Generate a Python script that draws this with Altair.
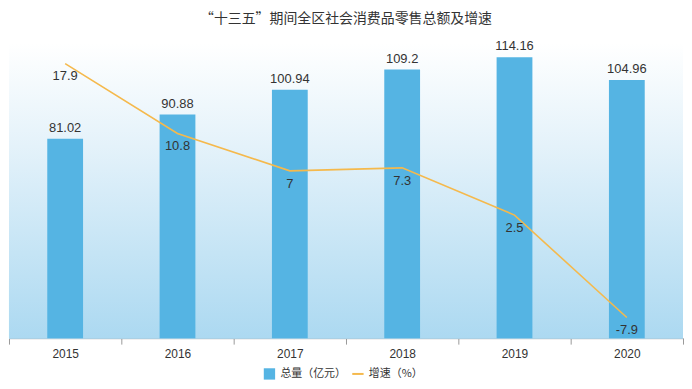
import altair as alt
import pandas as pd

years = ["2015", "2016", "2017", "2018", "2019", "2020"]
totals = [81.02, 90.88, 100.94, 109.2, 114.16, 104.96]
growth = [17.9, 10.8, 7, 7.3, 2.5, -7.9]

df = pd.DataFrame({"year": years, "total": totals, "growth": growth})

W, H = 678, 297
NUM_FONT = "Liberation Sans"
CJK_FONT = "Noto Sans CJK SC"

x = alt.X(
    "year:N",
    scale=alt.Scale(paddingInner=0, paddingOuter=0),
    axis=alt.Axis(
        title=None, labelAngle=0, tickBand="extent", domainColor="#999999",
        tickColor="#999999", tickSize=6, labelFontSize=12, labelColor="#333333",
        labelFont=NUM_FONT, labelPadding=4,
    ),
)

base = alt.Chart(df)

bg = base.mark_rect(
    fill=alt.Gradient(
        gradient="linear",
        stops=[alt.GradientStop(color="#ffffff", offset=0),
               alt.GradientStop(color="#e4f2fa", offset=0.35),
               alt.GradientStop(color="#acd9f1", offset=1)],
        x1=0, x2=0, y1=0, y2=1,
    )
).encode(x=alt.value(0), x2=alt.value(W), y=alt.value(0), y2=alt.value(H))

ybar = alt.Y("total:Q", scale=alt.Scale(domain=[0, 120]), axis=None)
yline = alt.Y("growth:Q", scale=alt.Scale(domain=[-10, 20]), axis=None)

bars = base.mark_bar(size=36).transform_calculate(s1="'总量（亿元）'").encode(
    x=x, y=ybar,
    fill=alt.Fill("s1:N", scale=alt.Scale(range=["#55b4e3"]),
                  legend=alt.Legend(title=None, symbolType="square", orient="none",
                                    legendX=255, legendY=326)),
)
bar_text = base.mark_text(dy=-11, baseline="middle", fontSize=13, font=NUM_FONT, color="#333333").encode(
    x=x, y=ybar, text=alt.Text("total:Q")
)
line = base.mark_line(strokeWidth=1.6).transform_calculate(s2="'增速（%）'").encode(
    x=x, y=yline,
    stroke=alt.Stroke("s2:N", scale=alt.Scale(range=["#f5b94c"]),
                      legend=alt.Legend(title=None, symbolType="stroke", orient="none",
                                        legendX=344, legendY=326)),
)
line_text = base.mark_text(dy=13, baseline="middle", fontSize=13, font=NUM_FONT, color="#333333").transform_calculate(
    lbl="'' + datum.growth"
).encode(
    x=x, y=yline, text=alt.Text("lbl:N")
)

chart = (
    alt.layer(bg, bars, bar_text, line, line_text)
    .resolve_scale(y="independent")
    .properties(
        width=W, height=H,
        title=alt.Title("“十三五”期间全区社会消费品零售总额及增速", fontSize=14, font=CJK_FONT,
                        fontWeight="normal", color="#333333", offset=14, anchor="middle"),
        padding={"left": 0, "top": 3, "right": 0, "bottom": 0},
    )
    .configure_view(stroke=None)
    .configure_legend(labelFont=CJK_FONT, labelFontSize=11, labelColor="#333333",
                      symbolSize=130, symbolStrokeWidth=2)
)

chart.save("out.html", embed_options={"renderer": "svg", "actions": False})
